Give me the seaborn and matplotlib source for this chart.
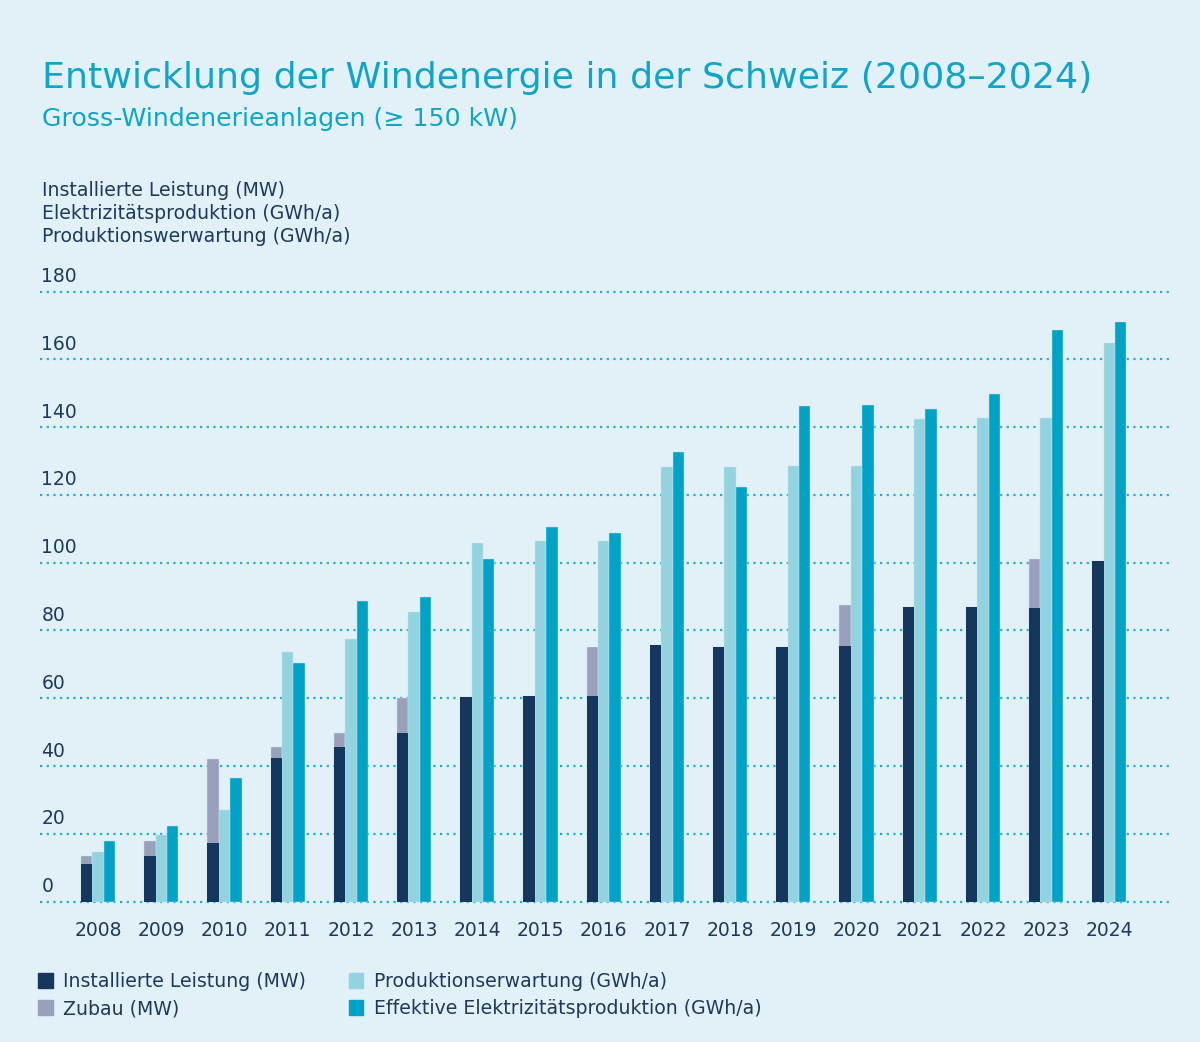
import numpy as np
import pandas as pd
import seaborn as sns
import matplotlib.pyplot as plt

years = ["2008", "2009", "2010", "2011", "2012", "2013", "2014", "2015", "2016",
         "2017", "2018", "2019", "2020", "2021", "2022", "2023", "2024"]
installiert = [11.1, 13.5, 17.2, 42.3, 45.6, 49.7, 60.3, 60.7, 60.7,
               75.8, 75.2, 75.0, 75.4, 86.8, 86.8, 86.6, 100.5]
zubau = [2.4, 4.4, 25.0, 3.4, 4.3, 10.3, 0, 0, 14.3,
         0, 0, 0, 12.1, 0, 0, 14.4, 0]
erwartung = [14.7, 19.6, 27.0, 73.6, 77.6, 85.5, 105.9, 106.4, 106.4,
             128.3, 128.3, 128.5, 128.5, 142.4, 142.7, 142.8, 164.7]
effektiv = [17.9, 22.4, 36.5, 70.3, 88.6, 89.8, 101.0, 110.6, 108.7,
            132.6, 122.2, 146.1, 146.4, 145.3, 149.9, 168.6, 171.1]
yticks = [0, 20, 40, 60, 80, 100, 120, 140, 160, 180]

navy = "#15375e"
grau = "#9aa0bb"
hell = "#93d3df"
blau = "#00a3c6"
bg = "#e2f1f7"
titel = "#0ea5c9"
textc = "#1d3a5e"

sns.set_theme(style="white")
plt.rcParams["font.family"] = ["DejaVu Sans"]

# lange Tabelle für seaborn
order = ["gesamt", "erw", "eff"]
total = np.array(installiert) + np.array(zubau)
df = pd.DataFrame({
    "jahr": years * 3,
    "serie": ["gesamt"] * 17 + ["erw"] * 17 + ["eff"] * 17,
    "wert": list(total) + erwartung + effektiv,
})
df_inst = pd.DataFrame({
    "jahr": years * 3,
    "serie": ["gesamt"] * 17 + ["erw"] * 17 + ["eff"] * 17,
    "wert": installiert + [0] * 34,
})

fig = plt.figure(figsize=(12, 10.42), dpi=100, facecolor=bg)
ax = fig.add_axes([0.0333, 0.1298, 0.9417, 0.5953])
ax.set_facecolor(bg)

sns.barplot(data=df, x="jahr", y="wert", hue="serie", hue_order=order,
            palette=[grau, hell, blau], width=0.54, saturation=1,
            errorbar=None, legend=False, ax=ax, linewidth=0.3, edgecolor="#c8e6ee")
sns.barplot(data=df_inst, x="jahr", y="wert", hue="serie", hue_order=order,
            palette=[navy, hell, blau], width=0.54, saturation=1,
            errorbar=None, legend=False, ax=ax, linewidth=0)

ax.set_xlim(-0.92, 16.96)
ax.set_ylim(-1.5, 181.5)
ax.set_yticks(yticks)
ax.grid(axis="y", color="#1fb0d2", linestyle=(0, (1, 2)), linewidth=1.6)
ax.set_axisbelow(True)
ax.tick_params(axis="y", length=0, labelleft=False)
ax.tick_params(axis="x", length=0, pad=10, labelsize=13.5, labelcolor=textc)
ax.set_xlabel("")
ax.set_ylabel("")
sns.despine(left=True, bottom=True)

for t in yticks:
    ax.annotate(str(t), xy=(0, t), xycoords=ax.get_yaxis_transform(),
                xytext=(1, 4), textcoords="offset points",
                ha="left", va="bottom", fontsize=13.5, color=textc)

# Titel
fig.text(0.035, 0.925, "Entwicklung der Windenergie in der Schweiz (2008–2024)",
         fontsize=26.2, color=titel, va="center")
fig.text(0.035, 0.886, "Gross-Windenerieanlagen (≥ 150 kW)",
         fontsize=18.2, color=titel, va="center")
fig.text(0.035, 0.817, "Installierte Leistung (MW)", fontsize=13.6, color=textc, va="center")
fig.text(0.035, 0.795, "Elektrizitätsproduktion (GWh/a)", fontsize=13.6, color=textc, va="center")
fig.text(0.035, 0.773, "Produktionswerwartung (GWh/a)", fontsize=13.6, color=textc, va="center")

# Legende
labels = ["Installierte Leistung (MW)", "Zubau (MW)",
          "Produktionserwartung (GWh/a)", "Effektive Elektrizitätsproduktion (GWh/a)"]
farben = [navy, grau, hell, blau]
handles = [plt.Rectangle((0, 0), 1, 1, color=c) for c in farben]
fig.legend(handles, labels, ncol=2, loc="upper left", bbox_to_anchor=(0.032, 0.067),
           frameon=False, fontsize=13.6, labelcolor=textc, handlelength=0.75,
           handleheight=0.8, handletextpad=0.55, columnspacing=2.3, labelspacing=0.42,
           borderaxespad=0, borderpad=0)

fig.savefig("out.png", dpi=100, facecolor=bg)
